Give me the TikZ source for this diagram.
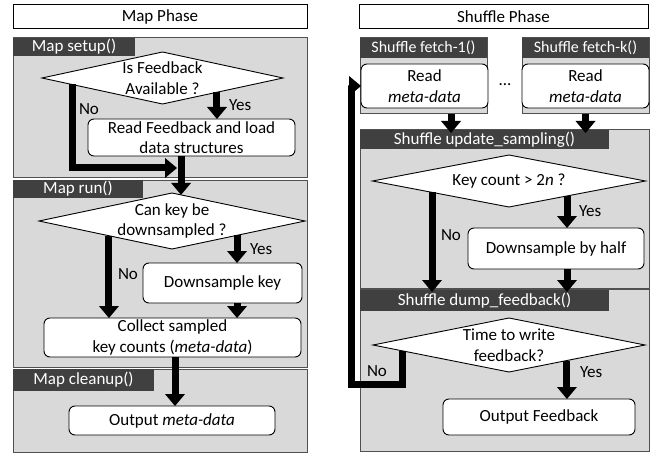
\documentclass[tikz,border=0pt]{standalone}
\usepackage{fontspec}
\setmainfont{Carlito}
\usetikzlibrary{shapes.geometric,arrows.meta,calc}
\definecolor{panelgray}{RGB}{217,217,217}
\definecolor{hdrgray}{RGB}{64,64,64}
\definecolor{edgegray}{RGB}{80,80,80}
\begin{document}
\begin{tikzpicture}[x=1pt,y=-1pt,
 every node/.style={font=\fontsize{17}{20.5}\selectfont, inner sep=0pt, outer sep=0pt},
 panelbox/.style={draw=edgegray, fill=panelgray, line width=1pt},
 hdr/.style={fill=hdrgray, text=white},
 fhdr/.style={fill=hdrgray, text=white, font=\fontsize{16}{19}\selectfont},
 titlebox/.style={draw=black, fill=white, line width=1pt},
 stepbox/.style={draw=black, fill=white, rounded corners=6pt, line width=0.9pt, align=center},
 dia/.style={shape=diamond, draw=black, fill=white, line width=0.9pt},
 lbl/.style={align=center},
 bigarrow/.style={line width=7pt, -{Triangle[width=20pt,length=12pt,line width=0pt]}},
]
\useasboundingbox (0,0) rectangle (655,473);
% titles
\node[titlebox, minimum width=294pt, minimum height=24pt] (t1) at (160,17) {Map Phase};
\node[titlebox, minimum width=289pt, minimum height=24pt] (t2) at (503.5,17) {Shuffle Phase};
% left panels
\node[panelbox, minimum width=294pt, minimum height=139pt] (p1) at (160,107.5) {};
\node[panelbox, minimum width=294pt, minimum height=187pt] (p2) at (160,273.5) {};
\node[panelbox, minimum width=294pt, minimum height=83pt] (p3) at (160,410.5) {};
\node[hdr, minimum width=122pt, minimum height=18pt] (h1) at (74,47) {Map setup()};
\node[hdr, minimum width=130pt, minimum height=18pt] (h2) at (78,189) {Map run()};
\node[hdr, minimum width=141pt, minimum height=22pt] (h3) at (83.5,380) {Map cleanup()};
% right panels
\node[panelbox, minimum width=127pt, minimum height=76pt] (fp1) at (423.5,76) {};
\node[panelbox, minimum width=127pt, minimum height=76pt] (fpk) at (585.5,76) {};
\node[fhdr, minimum width=127pt, minimum height=20pt] (fh1) at (423.5,48) {Shuffle fetch-1()};
\node[fhdr, minimum width=127pt, minimum height=20pt] (fhk) at (585.5,48) {Shuffle fetch-k()};
\node[panelbox, minimum width=289pt, minimum height=158pt] (up) at (504.5,209) {};
\node[panelbox, minimum width=289pt, minimum height=162pt] (dp) at (504.5,370) {};
\node[hdr, minimum width=249pt, minimum height=19pt] (uh) at (484.5,139.5) {Shuffle update\_sampling()};
\node[hdr, minimum width=249pt, minimum height=21pt] (dh) at (484.5,300.5) {Shuffle dump\_feedback()};
% diamonds
\node[dia, minimum width=241pt, minimum height=52pt, label={[lbl]center:{Is Feedback\\Available ?}}] (d1) at (162.5,78) {};
\node[dia, minimum width=266pt, minimum height=56pt, label={[lbl]center:{Can key be\\downsampled ?}}] (d2) at (172,221) {};
\node[dia, minimum width=273pt, minimum height=52pt, label={[lbl]center:{Key count > 2\textit{n} ?}}] (d3) at (509,181) {};
\node[dia, minimum width=272pt, minimum height=54pt, label={[lbl]center:{Time to write\\feedback?}}] (d4) at (509,345) {};
% boxes
\node[stepbox, minimum width=207pt, minimum height=37pt] (b1) at (191.5,137.5) {Read Feedback and load\\data structures};
\node[stepbox, minimum width=159pt, minimum height=40pt] (b2) at (222.5,283) {Downsample key};
\node[stepbox, minimum width=257pt, minimum height=39pt] (b3) at (172.5,337.5) {Collect sampled\\key counts (\textit{meta-data})};
\node[stepbox, minimum width=206pt, minimum height=29pt] (b4) at (172,420.5) {Output \textit{meta-data}};
\node[stepbox, minimum width=127pt, minimum height=44pt] (r1) at (424.5,86) {Read\\\textit{meta-data}};
\node[stepbox, minimum width=127pt, minimum height=44pt] (rk) at (585.5,86) {Read\\\textit{meta-data}};
\node[stepbox, minimum width=176pt, minimum height=41pt] (b5) at (556,248.5) {Downsample by half};
\node[stepbox, minimum width=192pt, minimum height=36pt] (b6) at (539,417) {Output Feedback};
\node (dots) at (505,85) {...};
% labels
\node[anchor=west] (ly1) at (229,105) {Yes};
\node[anchor=west] (ln1) at (79,109) {No};
\node[anchor=west] (ly2) at (250,249) {Yes};
\node[anchor=west] (ln2) at (118,274) {No};
\node[anchor=west] (ly3) at (579,211) {Yes};
\node[anchor=west] (ln3) at (441,235) {No};
\node[anchor=west] (ly4) at (580,372) {Yes};
\node[anchor=west] (ln4) at (367,371) {No};
% connector points
\coordinate (y1) at ($(d1.south)!0.452!(d1.east)$);
\coordinate (n1) at ($(d1.west)!0.249!(d1.south)$);
\coordinate (j1) at (177,168);
\coordinate (e1) at ($(d2.north)!0.068!(d2.east)$);
\coordinate (y2) at ($(d2.south)!0.489!(d2.east)$);
\coordinate (n2) at ($(d2.west)!0.526!(d2.south)$);
\coordinate (y3) at ($(d3.south)!0.425!(d3.east)$);
\coordinate (n3) at ($(d3.west)!0.436!(d3.south)$);
\coordinate (y4) at ($(d4.south)!0.426!(d4.east)$);
\coordinate (n4) at ($(d4.west)!0.22!(d4.south)$);
\coordinate (lc) at (351,384);
\coordinate (f1) at ([xshift=27.5pt]fp1.south);
\coordinate (f1e) at ([yshift=-3pt]f1 |- uh.north);
\coordinate (fke) at ([yshift=-3pt]fpk.south |- uh.north);
% arrows
\draw[bigarrow] (y1) -- (y1 |- b1.north);
\draw[bigarrow] (n1) |- (j1);
\draw[bigarrow] (e1 |- b1.south) -- (e1);
\draw[bigarrow] (y2) -- (y2 |- b2.north);
\draw[bigarrow] (y2 |- b2.south) -- (y2 |- b3.north);
\draw[bigarrow] (n2) -- (n2 |- b3.north);
\draw[bigarrow] ([xshift=2.5pt]b3.south) -- ([xshift=2.5pt]b3.south |- b4.north);
\draw[bigarrow] (f1) -- (f1e);
\draw[bigarrow] (fpk.south) -- (fke);
\draw[bigarrow] (y3) -- (y3 |- b5.north);
\draw[bigarrow] (y3 |- b5.south) -- ([yshift=-2pt]y3 |- dh.north);
\draw[bigarrow] (n3) -- ([yshift=-2pt]n3 |- dh.north);
\draw[bigarrow] (y4) -- (y4 |- b6.north);
\draw[bigarrow] (n4) |- (lc) |- (r1.west);
\end{tikzpicture}
\end{document}
